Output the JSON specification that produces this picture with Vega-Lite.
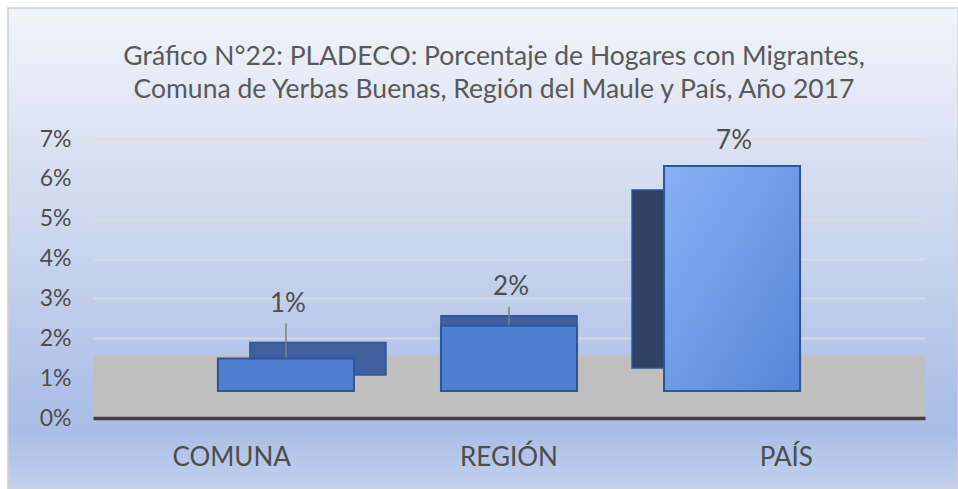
{
  "$schema": "https://vega.github.io/schema/vega-lite/v6.json",
  "width": 950,
  "height": 481,
  "autosize": {"type": "none"},
  "padding": {"left": 8, "top": 8, "right": 0, "bottom": 0},
  "background": "#ffffff",
  "view": {
    "fill": {
      "gradient": "linear", "x1": 0, "y1": 0, "x2": 0, "y2": 1,
      "stops": [
        {"offset": 0, "color": "#f2f4fa"},
        {"offset": 0.25, "color": "#dde4f3"},
        {"offset": 0.5, "color": "#c9d5ed"},
        {"offset": 0.8, "color": "#aec0e6"},
        {"offset": 0.88, "color": "#aabde4"},
        {"offset": 1, "color": "#c3d1ee"}
      ]
    },
    "stroke": "#d0d0d0",
    "strokeWidth": 1.5
  },
  "title": {
    "text": ["Gráfico N°22: PLADECO: Porcentaje de Hogares con Migrantes,", "Comuna de Yerbas Buenas, Región del Maule y País, Año 2017"],
    "font": "Lato",
    "fontSize": 26.5,
    "fontWeight": "normal",
    "color": "#595959",
    "anchor": "middle",
    "offset": -95,
    "lineHeight": 33,
    "dx": 11
  },
  "data": {
    "values": [
      {"cat": "COMUNA", "value": 0.010},
      {"cat": "REGIÓN", "value": 0.020},
      {"cat": "PAÍS", "value": 0.069}
    ]
  },
  "layer": [
    {
      "mark": {"type": "rect", "fill": "#bfbfbf"},
      "encoding": {
        "x": {
          "field": "cat", "type": "nominal", "sort": null,
          "scale": {"range": [85, 917], "paddingInner": 0, "paddingOuter": 0},
          "axis": {
            "orient": "bottom", "offset": -71, "title": null,
            "domain": true, "domainColor": "#404040", "domainWidth": 3.5,
            "ticks": false, "tickSize": 0, "labelPadding": 26, "labelBaseline": "top",
            "labelAngle": 0, "labelFont": "Lato", "labelFontSize": 26, "labelColor": "#4d4d4d",
            "grid": false
          }
        },
        "y": {
          "datum": 0, "type": "quantitative",
          "scale": {"domain": [-0.01781, 0.10287], "nice": false, "zero": false},
          "axis": {
            "orient": "left", "offset": -85, "title": null,
            "values": [0, 0.01, 0.02, 0.03, 0.04, 0.05, 0.06, 0.07], "format": ".0%",
            "domain": false, "ticks": false, "tickSize": 0, "labelPadding": 22,
            "labelFont": "Lato", "labelFontSize": 23, "labelColor": "#4d4d4d",
            "grid": true, "gridColor": "#dcdcdc", "gridWidth": 1.5
          }
        },
        "y2": {"datum": 0.0157}
      }
    },
    {
      "encoding": {
        "x": {
          "field": "cat", "type": "nominal", "sort": null,
          "scale": {"range": [85, 917], "paddingInner": 0.39, "paddingOuter": 0.56, "align": 0.5},
          "axis": null
        },
        "y": {
          "field": "value", "type": "quantitative",
          "scale": {"domain": [-0.03006, 0.11748], "nice": false, "zero": false},
          "axis": null
        }
      },
      "layer": [
        {
          "mark": {
            "type": "bar",
            "xOffset": {"expr": "datum.cat === 'COMUNA' ? 32 : (datum.cat === 'PAÍS' ? -32 : 0)"},
            "yOffset": {"expr": "datum.cat === 'COMUNA' ? -16 : (datum.cat === 'PAÍS' ? 24 : -10)"},
            "y2Offset": {"expr": "datum.cat === 'COMUNA' ? -16 : -23"},
            "fill": {"expr": "datum.cat === 'PAÍS' ? '#2f4266' : '#3f5f9f'"},
            "stroke": "#2f5597",
            "strokeWidth": 1.5
          },
          "encoding": {"y2": {"datum": 0}}
        },
        {
          "mark": {
            "type": "bar",
            "fill": {"expr": "datum.cat === 'PAÍS' ? {gradient: 'linear', x1: 0, y1: 0, x2: 1, y2: 1, stops: [{offset: 0, color: '#88b1f6'}, {offset: 1, color: '#5785d6'}]} : '#4f7fcf'"},
            "stroke": "#2f5597",
            "strokeWidth": 2
          }
        },
        {
          "transform": [{"filter": "datum.cat !== 'PAÍS'"}],
          "mark": {
            "type": "rule",
            "color": "#808080",
            "strokeWidth": 1.5,
            "yOffset": {"expr": "datum.cat === 'COMUNA' ? -35 : -19"},
            "y2Offset": -1
          },
          "encoding": {"y2": {"field": "value"}}
        },
        {
          "mark": {
            "type": "text",
            "font": "Lato",
            "fontSize": 26,
            "color": "#4d4d4d",
            "baseline": "alphabetic",
            "dx": 2,
            "dy": {"expr": "datum.cat === 'COMUNA' ? -46 : (datum.cat === 'REGIÓN' ? -31 : -17)"}
          },
          "encoding": {"text": {"field": "value", "type": "quantitative", "format": ".0%"}}
        }
      ]
    }
  ],
  "resolve": {"scale": {"x": "independent", "y": "independent"}}
}
